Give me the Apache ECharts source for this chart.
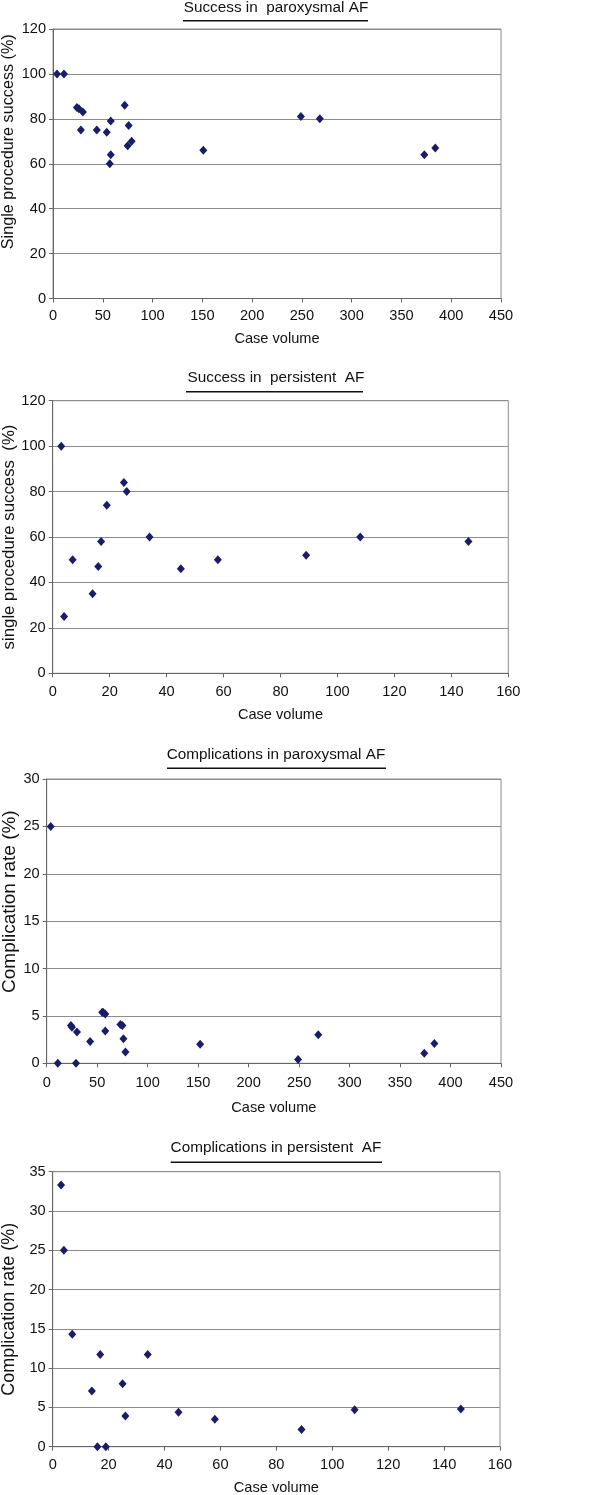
<!DOCTYPE html>
<html>
<head>
<meta charset="utf-8">
<script src="https://cdn.jsdelivr.net/npm/echarts@6/dist/echarts.min.js"></script>
<style>
html,body{margin:0;padding:0;background:#fff;}
#chart{width:600px;height:1495px;}
</style>
</head>
<body>
<div id="chart"></div>
<script>
// ---- Data ----
const titles = ['Success in  paroxysmal AF', 'Success in  persistent  AF', 'Complications in paroxysmal AF', 'Complications in persistent  AF'];
const yNames = ['Single procedure success (%)', 'single procedure success  (%)', 'Complication rate (%)', 'Complication rate (%)'];
const xName = 'Case volume';

const parSuccessVolume = [4, 11, 24, 26, 30, 28, 44, 54, 58, 58, 57, 72, 76, 75, 79, 151, 249, 268, 373, 384];
const parSuccessRate   = [100, 100, 85, 84.5, 83, 75, 75, 74, 79, 64, 60, 86, 77, 68, 70, 66, 81, 80, 64, 67];

const perVolume        = [3, 4, 7, 14, 16, 17, 19, 25, 26, 34, 45, 58, 89, 108, 146];
const perSuccessRate   = [100, 25, 50, 35, 47, 58, 74, 84, 80, 60, 46, 50, 52, 60, 58];

const parComplVolume   = [4, 11, 24, 25, 30, 29, 43, 55, 56, 58, 58, 73, 75, 76, 78, 152, 249, 269, 374, 384];
const parComplRate     = [25, 0, 4.0, 3.8, 3.3, 0, 2.3, 5.4, 5.35, 5.2, 3.4, 4.1, 4.0, 2.6, 1.2, 2.0, 0.4, 3.0, 1.05, 2.1];

const perComplRate     = [33.3, 25, 14.3, 7.1, 0, 11.75, 0, 8.0, 3.9, 11.75, 4.4, 3.5, 2.2, 4.7, 4.8];

const xMax = [450, 160, 450, 160];
const xInterval = [50, 20, 50, 20];
const yMax = [120, 120, 30, 35];
const yInterval = [20, 20, 5, 5];

// ---- Layout ----
const FONT = 'Arial, "Liberation Sans", sans-serif';
const grids = [
  {left: 53, top: 29, width: 448, height: 269.5},
  {left: 52.7, top: 400.7, width: 455.6, height: 272.6},
  {left: 46.7, top: 779, width: 454.3, height: 284.3},
  {left: 52.7, top: 1171.7, width: 447.3, height: 275}
];
const titleTop = [0, 370, 747, 1140];
const underline = [[183, 368, 20.7], [186, 363, 391.7], [167, 386, 768.3], [170.7, 382, 1162.3]];
const xLabelMargin = [10, 11, 12, 11];
const xNameGap = [32.5, 34.4, 37, 33.6];
const yNameGap = [36, 35.3, 27.2, 34.7];
const yNameSize = [16.2, 16.8, 19, 18];
const yNameShift = [44, 0, 39, 0];

const seriesData = [
  parSuccessVolume.map((v, i) => [v, parSuccessRate[i]]),
  perVolume.map((v, i) => [v, perSuccessRate[i]]),
  parComplVolume.map((v, i) => [v, parComplRate[i]]),
  perVolume.map((v, i) => [v, perComplRate[i]])
];

const chart = echarts.init(document.getElementById('chart'), null, {renderer: 'canvas'});
const option = {
  backgroundColor: '#fff',
  animation: false,
  title: titles.map((t, i) => ({
    text: t, left: 276, top: titleTop[i], textAlign: 'center', padding: 0,
    textStyle: {fontFamily: FONT, fontSize: 15.3, fontWeight: 'normal', color: '#111'}
  })),
  graphic: underline.map(u => ({
    type: 'line', shape: {x1: u[0], y1: u[2], x2: u[1], y2: u[2]},
    style: {stroke: '#111', lineWidth: 1.5}
  })),
  grid: grids.map(g => Object.assign({
    show: true, borderColor: '#8c8c8c', borderWidth: 1, backgroundColor: '#fff',
    containLabel: false, outerBoundsMode: 'none'
  }, g)),
  xAxis: grids.map((g, i) => ({
    type: 'value', gridIndex: i, min: 0, max: xMax[i], interval: xInterval[i],
    name: xName, nameLocation: 'middle', nameGap: xNameGap[i],
    nameTextStyle: {fontFamily: FONT, fontSize: 14.6, color: '#111'},
    axisLine: {show: true, onZero: false, lineStyle: {color: '#666', width: 1}},
    axisTick: {show: true, inside: false, length: 4, lineStyle: {color: '#666'}},
    axisLabel: {fontFamily: FONT, fontSize: 14.6, color: '#111', margin: xLabelMargin[i]},
    splitLine: {show: false}
  })),
  yAxis: grids.map((g, i) => ({
    type: 'value', gridIndex: i, min: 0, max: yMax[i], interval: yInterval[i],
    name: yNames[i], nameLocation: 'middle', nameGap: yNameGap[i], nameRotate: 90,
    nameMoveOverlap: false,
    nameTextStyle: {fontFamily: FONT, fontSize: yNameSize[i], color: '#111', padding: [0, 0, 0, yNameShift[i]]},
    axisLine: {show: true, onZero: false, lineStyle: {color: '#666', width: 1}},
    axisTick: {show: true, inside: false, length: 4, lineStyle: {color: '#666'}},
    axisLabel: {fontFamily: FONT, fontSize: 14.6, color: '#111', margin: 7},
    splitLine: {show: true, lineStyle: {color: '#8c8c8c', width: 1.2}}
  })),
  series: seriesData.map((d, i) => ({
    type: 'scatter', xAxisIndex: i, yAxisIndex: i, data: d,
    symbol: 'diamond', symbolSize: [8, 9],
    itemStyle: {color: '#1b1b6b', opacity: 1},
    emphasis: {disabled: true}
  }))
};
chart.setOption(option);
</script>
</body>
</html>
